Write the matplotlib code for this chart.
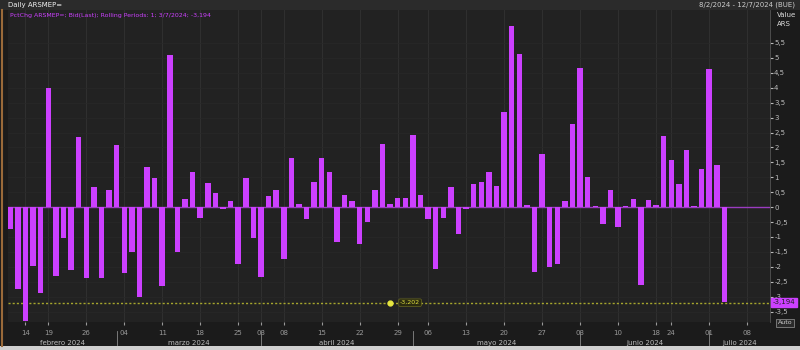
import matplotlib
matplotlib.use("Agg")
import matplotlib.pyplot as plt
import matplotlib.transforms as mtransforms
from matplotlib.patches import Rectangle
from matplotlib.lines import Line2D
import numpy as np
import pandas as pd

# daily % change ARSMEP=, 8/2/2024 - 3/7/2024 (trading days)
values = [
    -0.72, -2.74, -3.80, -1.97, -2.89, 3.98, -2.30, -1.04, -2.10, 2.34,
    -2.38, 0.68, -2.36, 0.59, 2.07, -2.22, -1.49, -3.00, 1.34, 0.97,
    -2.66, 5.10, -1.52, 0.26, 1.17, -0.38, 0.81, 0.46, -0.08, 0.20,
    -1.91, 0.97, -1.04, -2.35, 0.37, 0.57, -1.74, 1.66, 0.11, -0.39,
    0.84, 1.64, 1.19, -1.17, 0.40, 0.20, -1.22, -0.50, 0.59, 2.12,
    0.11, 0.30, 0.30, 2.40, 0.40, -0.41, -2.06, -0.38, 0.68, -0.91,
    -0.08, 0.78, 0.84, 1.17, 0.70, 3.18, 6.06, 5.14, 0.06, -2.17,
    1.77, -2.02, -1.89, 0.21, 2.77, 4.67, 1.01, 0.03, -0.58, 0.56,
    -0.66, 0.03, 0.26, -2.61, 0.23, 0.08, 2.37, 1.59, 0.79, 1.92,
    0.03, 1.28, 4.62, 1.40, -3.194,
]
holidays = ["2024-02-12", "2024-02-13", "2024-03-28", "2024-03-29", "2024-04-01",
            "2024-04-02", "2024-05-01", "2024-06-17", "2024-06-20", "2024-06-21",
            "2024-07-09"]
month_names = ["febrero 2024", "marzo 2024", "abril 2024", "mayo 2024",
               "junio 2024", "julio 2024"]
last_value = -3.194
line_value = -3.202

days = pd.bdate_range("2024-02-08", "2024-07-12", freq="C", holidays=holidays)
x = np.arange(len(values))
idx = pd.Series(np.arange(len(days)), index=days)

# weekly ticks: first trading day of each week (skip the partial first week)
weeks = idx.groupby(days.to_period("W")).first().iloc[1:]
tick_pos = list(weeks.values)
tick_lab = [days[i].strftime("%d") for i in tick_pos]
# month boundaries
months = idx.groupby(days.to_period("M")).first()
sep_pos = list(months.values[1:])

BG = "#222222"
MAG = "#cc40ff"
YEL = "#c8c830"

fig = plt.figure(figsize=(8, 3.5), dpi=100, facecolor="#1b1b1b")
ax = fig.add_axes([0.01, 0.08, 0.9525, 0.891], facecolor=BG)

ax.bar(x, values, width=0.72, color=MAG, zorder=3)
ax.axhline(0, color="#9a3cc0", lw=1.0, zorder=2)
ax.axhline(line_value, color=YEL, lw=1.0, ls=(0, (1.5, 1.5)), alpha=0.8, zorder=2)
ax.plot(50, line_value, "o", color="#e6e640", ms=3.5, zorder=4)
ax.text(51.3, line_value, "-3,202", color="#e0e040", fontsize=4.5, va="center",
        zorder=5, bbox=dict(boxstyle="round,pad=0.2", fc="#2a2a10", ec="#6a6a20", lw=0.5))

ax.set_xlim(-0.3, 100)
ax.set_ylim(-3.85, 6.6)

yt = np.arange(-3.5, 5.51, 0.5)
ax.yaxis.tick_right()
ax.set_yticks(yt)
ax.set_yticklabels([("%g" % v).replace(".", ",") for v in yt])
ax.tick_params(axis="y", colors="#bbbbbb", labelsize=5, length=2, pad=1)
ax.set_xticks(tick_pos)
ax.set_xticklabels(tick_lab)
ax.tick_params(axis="x", colors="#999999", labelsize=5, length=2, pad=4)

ax.grid(axis="x", color="#2f2f2f", lw=0.8, zorder=0)
ax.grid(axis="y", color="#282828", lw=0.5, zorder=0)
for s in ["top", "left", "bottom"]:
    ax.spines[s].set_visible(False)
ax.spines["right"].set_color("#555555")
ax.spines["right"].set_linewidth(0.6)

# month separators and names
xtr = ax.get_xaxis_transform()
for p in sep_pos:
    ax.plot([p, p], [-0.03, -0.075], transform=xtr, color="#888888", lw=0.6, clip_on=False)
bounds = [-0.3] + sep_pos + [100]
for i, name in enumerate(month_names):
    c = (bounds[i] + bounds[i + 1]) / 2
    ax.annotate(name, xy=(c, 0), xycoords=xtr, xytext=(0, -21), textcoords="offset pixels",
                ha="center", va="center", fontsize=5, color="#bbbbbb")

# last value tag on the axis
btr = mtransforms.blended_transform_factory(ax.transAxes, ax.transData)
ax.text(1.004, last_value, "-3,194", transform=btr, fontsize=5, color="#202020",
        va="center", ha="left", zorder=6,
        bbox=dict(boxstyle="square,pad=0.25", fc=MAG, ec=MAG))

# header and chrome
fig.add_artist(Rectangle((0, 1 - 10 / 350), 1, 10 / 350, transform=fig.transFigure,
                         fc="#2b2b2b", ec="none"))
fig.add_artist(Rectangle((0, 0), 1, 4 / 350, transform=fig.transFigure,
                         fc="#d0d0d0", ec="none"))
fig.add_artist(Line2D([2 / 800, 2 / 800], [4 / 350, 1 - 10 / 350], transform=fig.transFigure,
                      color="#9a6a3a", lw=1.5))
fig.text(8 / 800, 1 - 5 / 350, "Daily ARSMEP=", fontsize=5, color="#eeeeee", va="center")
fig.text(795 / 800, 1 - 5 / 350, "8/2/2024 - 12/7/2024 (BUE)", fontsize=5,
         color="#cccccc", va="center", ha="right")
fig.text(777 / 800, 1 - 15 / 350, "Value", fontsize=5, color="#dddddd", va="center")
fig.text(777 / 800, 1 - 24 / 350, "ARS", fontsize=5, color="#dddddd", va="center")
fig.text(10 / 800, 1 - 16 / 350, "PctChg ARSMEP=; Bid(Last); Rolling Periods: 1; 3/7/2024; -3,194",
         fontsize=4.5, color=MAG, va="center")
fig.text(785 / 800, 1 - 323 / 350, "Auto", fontsize=4.5, color="#cccccc", va="center", ha="center",
         bbox=dict(boxstyle="square,pad=0.2", fc="#2a2a2a", ec="#999999", lw=0.5))

fig.savefig("out.png", dpi=100, facecolor=fig.get_facecolor())
